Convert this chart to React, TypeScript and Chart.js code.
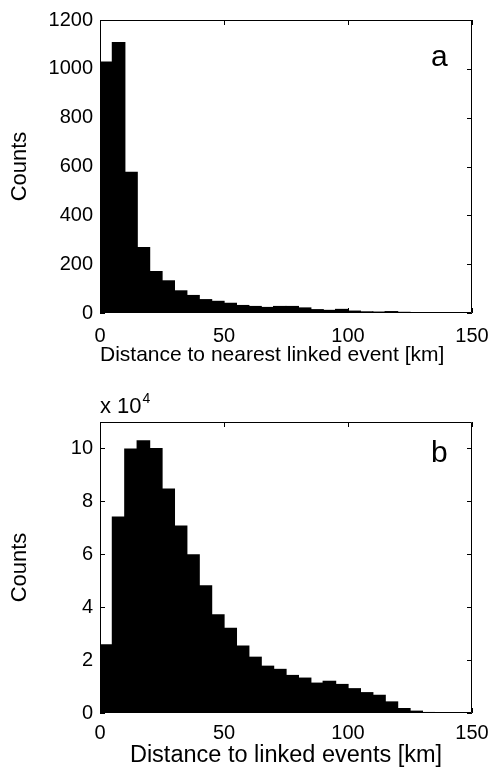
import React, { useEffect, useRef } from "react";
import { Chart, registerables } from "chart.js";

Chart.register(...registerables);

const FONT = "'Liberation Sans', Arial, Helvetica, sans-serif";

// Histogram bin centres (5 km bins, 0-150 km)
const binCenters = [
  2.5, 7.5, 12.5, 17.5, 22.5, 27.5, 32.5, 37.5, 42.5, 47.5,
  52.5, 57.5, 62.5, 67.5, 72.5, 77.5, 82.5, 87.5, 92.5, 97.5,
  102.5, 107.5, 112.5, 117.5, 122.5, 127.5, 132.5, 137.5, 142.5, 147.5,
];

// Panel a: distance to nearest linked event
const nearestCounts = [
  1030, 1110, 578, 270, 172, 134, 93, 74, 57, 50,
  42, 33, 29, 25, 29, 29, 23, 16, 13, 17,
  10, 7, 6, 8, 5, 3, 4, 1, 1, 0,
];

// Panel b: distance to linked events (raw counts)
const linkedCounts = [
  26000, 74300, 100000, 103100, 100200, 84900, 70900, 60000, 48300, 37300,
  32200, 25500, 21300, 17900, 16700, 14400, 13400, 11500, 12200, 11000,
  9400, 7900, 6900, 4400, 1900, 900, 400, 200, 100, 50,
];

const xTickValues = [0, 50, 100, 150];
const yTickValuesA = [0, 200, 400, 600, 800, 1000, 1200];
const yTickValuesB = [0, 20000, 40000, 60000, 80000, 100000];

const xTitleA = "Distance to nearest linked event [km]";
const xTitleB = "Distance to linked events [km]";
const yTitle = "Counts";

type PanelProps = {
  width: number;
  height: number;
  counts: number[];
  yMax: number;
  yTicks: number[];
  yScaleDiv: number;
  xTitle: string;
  xTitleSize: number;
  xTitleAlign: string;
  letter: string;
  letterBaseline: number;
  padTop: number;
  plotBottom: number;
  xTickPad: number;
  xTitlePad: number;
  exponent: boolean;
};

function Panel(p: PanelProps) {
  const ref = useRef<HTMLCanvasElement | null>(null);

  useEffect(() => {
    if (!ref.current) return;

    const framePlugin = {
      id: "frame",
      afterDraw(chart: any) {
        const { ctx, chartArea } = chart;
        const { left, right, top, bottom } = chartArea;
        const xs = chart.scales.x;
        const ys = chart.scales.y;
        const tl = 5;
        ctx.save();
        ctx.strokeStyle = "#000";
        ctx.lineWidth = 1;
        ctx.beginPath();
        ctx.rect(left + 0.5, top + 0.5, right - left - 1, bottom - top - 1);
        xTickValues.forEach((v) => {
          const px = Math.round(xs.getPixelForValue(v)) + 0.5;
          ctx.moveTo(px, bottom);
          ctx.lineTo(px, bottom - tl);
          ctx.moveTo(px, top);
          ctx.lineTo(px, top + tl);
        });
        p.yTicks.forEach((v) => {
          const py = Math.round(ys.getPixelForValue(v)) + 0.5;
          ctx.moveTo(left, py);
          ctx.lineTo(left + tl, py);
          ctx.moveTo(right, py);
          ctx.lineTo(right - tl, py);
        });
        ctx.stroke();

        ctx.fillStyle = "#000";
        ctx.textAlign = "left";
        ctx.textBaseline = "alphabetic";
        ctx.font = `30px ${FONT}`;
        ctx.fillText(p.letter, 431, p.letterBaseline);

        if (p.exponent) {
          ctx.font = `22px ${FONT}`;
          ctx.fillText("x 10", 100, 33);
          ctx.font = `14px ${FONT}`;
          ctx.fillText("4", 142.5, 23);
        }
        ctx.restore();
      },
    };

    const chart = new Chart(ref.current, {
      type: "bar",
      data: {
        datasets: [
          {
            data: binCenters.map((c, i) => ({ x: c, y: p.counts[i] })),
            backgroundColor: "#000",
            borderWidth: 0,
            barPercentage: 1.1,
            categoryPercentage: 1,
          },
        ],
      },
      options: {
        responsive: false,
        animation: false,
        devicePixelRatio: 1,
        layout: { padding: { left: 0, right: 20, top: p.padTop, bottom: 0 } },
        plugins: {
          legend: { display: false },
          tooltip: { enabled: false },
        },
        scales: {
          x: {
            type: "linear",
            min: 0,
            max: 150,
            offset: false,
            grid: { display: false, drawTicks: false },
            border: { display: false },
            afterBuildTicks: (s: any) => {
              s.ticks = xTickValues.map((v) => ({ value: v }));
            },
            afterFit: (s: any) => {
              s.height = p.height - p.plotBottom;
              s.paddingLeft = 0;
              s.paddingRight = 0;
            },
            ticks: {
              color: "#000",
              font: { family: FONT, size: 20 },
              padding: p.xTickPad,
              maxRotation: 0,
              autoSkip: false,
            },
            title: {
              display: true,
              text: p.xTitle,
              align: p.xTitleAlign,
              color: "#000",
              font: { family: FONT, size: p.xTitleSize },
              padding: { top: 0, bottom: p.xTitlePad },
            },
          },
          y: {
            type: "linear",
            min: 0,
            max: p.yMax,
            grid: { display: false, drawTicks: false },
            border: { display: false },
            afterBuildTicks: (s: any) => {
              s.ticks = p.yTicks.map((v) => ({ value: v }));
            },
            afterFit: (s: any) => {
              s.width = 100;
              s.paddingTop = 0;
              s.paddingBottom = 0;
            },
            ticks: {
              color: "#000",
              font: { family: FONT, size: 20 },
              padding: 7,
              callback: (v: any) => String(Number(v) / p.yScaleDiv),
            },
            title: {
              display: true,
              text: yTitle,
              color: "#000",
              font: { family: FONT, size: 22 },
              padding: { top: 7, bottom: 0 },
            },
          },
        },
      },
      plugins: [framePlugin],
    } as any);

    return () => chart.destroy();
  }, []);

  return (
    <canvas
      ref={ref}
      width={p.width}
      height={p.height}
      style={{ display: "block", width: p.width, height: p.height }}
    />
  );
}

export default function App() {
  return (
    <div
      style={{
        position: "absolute",
        left: 0,
        top: 0,
        width: 492,
        height: 773,
        background: "#fff",
      }}
    >
      <Panel
        width={492}
        height={380}
        counts={nearestCounts}
        yMax={1200}
        yTicks={yTickValuesA}
        yScaleDiv={1}
        xTitle={xTitleA}
        xTitleSize={21}
        xTitleAlign="start"
        letter="a"
        letterBaseline={66}
        padTop={20}
        plotBottom={313}
        xTickPad={11}
        xTitlePad={12}
        exponent={false}
      />
      <Panel
        width={492}
        height={393}
        counts={linkedCounts}
        yMax={110000}
        yTicks={yTickValuesB}
        yScaleDiv={10000}
        xTitle={xTitleB}
        xTitleSize={23.5}
        xTitleAlign="center"
        letter="b"
        letterBaseline={82}
        padTop={42}
        plotBottom={333}
        xTickPad={8}
        xTitlePad={3}
        exponent={true}
      />
    </div>
  );
}
